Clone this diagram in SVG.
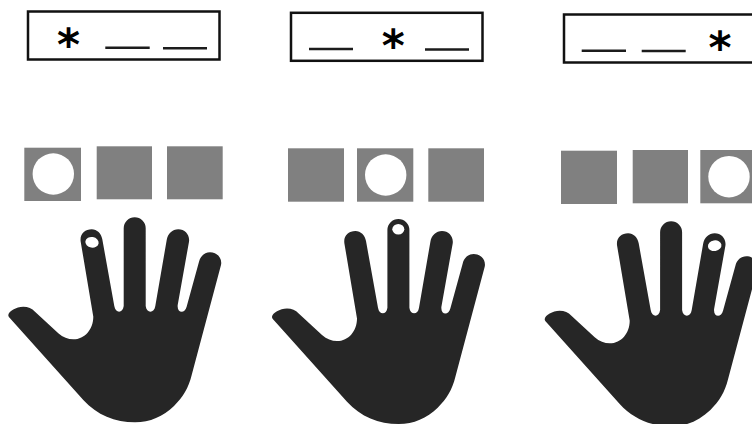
<svg xmlns="http://www.w3.org/2000/svg" width="752" height="424" viewBox="0 0 752 424">
<style>
.box{fill:#fff;stroke:#111;stroke-width:2.5}
.dash{stroke:#1c1c1c;stroke-width:2.4;fill:none}
.sq{fill:#808080}
.c{fill:#fff}
.hand{fill:#262626}
.dot{fill:#fff}
.star{font-family:"DejaVu Sans",sans-serif;font-weight:700;font-size:44px;fill:#000;text-anchor:middle}
</style>
<defs>
<path id="h" d="M8.300 315 C9 311 16 307 23.300 306.700 C28 306.700 32 308.500 35 311.700 L58.300 333.300 C63 337.500 68 339.300 73.300 339.300 C85 339.300 93.300 329 93.300 316.700 L80.700 241.700 C79.500 234 85 229.300 91.700 229.300 C97 229.300 101.300 233.500 102.300 239.300 L114.300 306 C115.500 313.500 122.800 313.500 123.700 306 L123.700 228.300 A11 11 0 0 1 145.700 228.300 L145.700 306 C146.500 313.500 154.300 313.500 155.300 306 L166.700 240 C167.800 233.500 172.500 229.300 178.300 229.300 C185 229.300 190 235 189 241.700 L177.700 305 C176.800 313.500 185 314 186.700 306.500 L199 261.700 C200.500 256 204.500 252.300 210 252.300 C217 252.300 222.500 258 221 265 L191.700 375 C188.500 388 183 397 174 406 C163 416.500 150 422.300 135 422.300 C115 422.300 97 415 83.300 400 L10 318.300 C9 317.300 8.300 316.300 8.300 315 Z"/>
</defs>
<rect width="752" height="424" fill="#fff"/>
<g id="panel-1">
<rect class="box" x="28" y="11.500" width="191.500" height="48"/>
<text class="star" x="68.500" y="59.500">*</text>
<path class="dash" d="M105.300 47.700H149.700M163 48.300H207"/>
<rect class="sq" x="24.300" y="147.700" width="56.700" height="53.300"/>
<circle class="c" cx="53.300" cy="174" r="20.700"/>
<rect class="sq" x="96.700" y="146.300" width="55.300" height="53"/>
<rect class="sq" x="167" y="146.300" width="55.700" height="53"/>
<use href="#h" class="hand"/>
<ellipse class="dot" cx="92" cy="242.300" rx="6.700" ry="5.300" transform="rotate(10 92 242.300)"/>
</g>
<g id="panel-2">
<rect class="box" x="291" y="12.800" width="191.500" height="48"/>
<text class="star" x="393.200" y="61">*</text>
<path class="dash" d="M309 49H353M425 49.500H469"/>
<rect class="sq" x="288" y="148.300" width="56" height="53.400"/>
<rect class="sq" x="357" y="148.300" width="56.300" height="53.400"/>
<circle class="c" cx="385.700" cy="175" r="20.700"/>
<rect class="sq" x="428.300" y="148.300" width="55.700" height="53.400"/>
<use href="#h" class="hand" x="263.700" y="1.700"/>
<ellipse class="dot" cx="398.300" cy="229.300" rx="6" ry="5.300"/>
</g>
<g id="panel-3">
<rect class="box" x="564" y="14.500" width="195" height="48"/>
<text class="star" x="720" y="62.500">*</text>
<path class="dash" d="M581.700 50.700H626M641.700 51H685.700"/>
<rect class="sq" x="561" y="150.700" width="56" height="53.300"/>
<rect class="sq" x="632.700" y="150" width="55.300" height="53.300"/>
<rect class="sq" x="700.300" y="150" width="56.700" height="53.300"/>
<circle class="c" cx="729" cy="176.700" r="20.700"/>
<use href="#h" class="hand" x="536.400" y="4"/>
<ellipse class="dot" cx="714.700" cy="245.700" rx="6.800" ry="5.300" transform="rotate(-10 714.700 245.700)"/>
</g>
</svg>
